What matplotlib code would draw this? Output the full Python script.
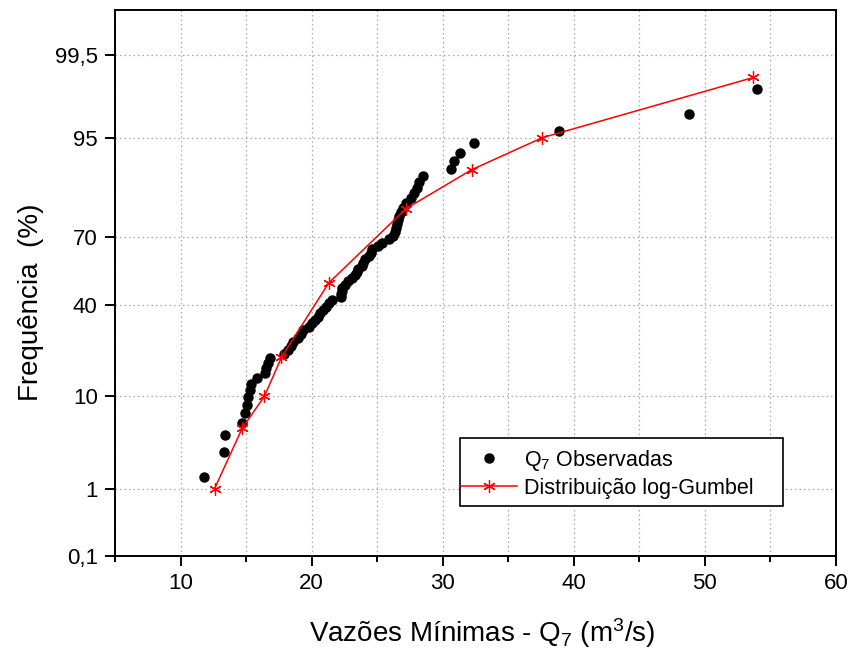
import math
import numpy as np
import matplotlib
matplotlib.use("Agg")
import matplotlib.pyplot as plt
from matplotlib.patches import Rectangle
from matplotlib.ticker import FixedLocator, MultipleLocator, NullFormatter

plt.rcParams['font.family'] = ['Liberation Sans', 'DejaVu Sans']
plt.rcParams['mathtext.fontset'] = 'custom'
plt.rcParams['mathtext.rm'] = 'Liberation Sans'
plt.rcParams['mathtext.it'] = 'Liberation Sans:italic'
plt.rcParams['mathtext.default'] = 'rm'

# Observed 7-day minimum flows (m3/s), sorted, with plotting-position frequency (%)
q7_obs = [11.81, 13.34, 13.42, 14.69, 14.95, 15.08, 15.15, 15.28, 15.38, 15.84,
          16.43, 16.53, 16.68, 16.86, 17.88, 18.16, 18.39, 18.57, 18.98, 19.18,
          19.34, 19.80, 20.00, 20.26, 20.46, 20.64, 20.87, 21.12, 21.33, 21.58,
          22.24, 22.27, 22.30, 22.35, 22.55, 22.81, 23.06, 23.32, 23.44, 23.55,
          23.83, 23.95, 24.08, 24.34, 24.52, 24.59, 25.10, 25.36, 25.92, 26.22,
          26.38, 26.45, 26.51, 26.58, 26.68, 26.79, 26.99, 27.19, 27.58, 27.81,
          28.04, 28.16, 28.47, 30.63, 30.88, 31.34, 32.39, 38.86, 48.77, 53.95]
freq_obs = [1.41, 2.82, 4.23, 5.63, 7.04, 8.45, 9.86, 11.27, 12.68, 14.08,
            15.49, 16.90, 18.31, 19.72, 21.13, 22.54, 23.94, 25.35, 26.76, 28.17,
            29.58, 30.99, 32.39, 33.80, 35.21, 36.62, 38.03, 39.44, 40.85, 42.25,
            43.66, 45.07, 46.48, 47.89, 49.30, 50.70, 52.11, 53.52, 54.93, 56.34,
            57.75, 59.15, 60.56, 61.97, 63.38, 64.79, 66.20, 67.61, 69.01, 70.42,
            71.83, 73.24, 74.65, 76.06, 77.46, 78.87, 80.28, 81.69, 83.10, 84.51,
            85.92, 87.32, 88.73, 90.14, 91.55, 92.96, 94.37, 95.77, 97.18, 98.59]

# Fitted log-Gumbel distribution
q7_fit = [12.6, 14.7, 16.4, 17.7, 21.3, 27.2, 32.2, 37.6, 53.7]
freq_fit = [1, 5, 10, 20, 50, 80, 90, 95, 99]

y_ticks = [0.1, 1, 10, 40, 70, 95, 99.5]
y_ticklabels = ["0,1", "1", "10", "40", "70", "95", "99,5"]
x_ticks = [10, 20, 30, 40, 50, 60]


# Normal probability scale (percent <-> standard normal quantile)
_a = [-3.969683028665376e+01, 2.209460984245205e+02, -2.759285104469687e+02,
      1.383577518672690e+02, -3.066479806614716e+01, 2.506628277459239e+00]
_b = [-5.447609879822406e+01, 1.615858368580409e+02, -1.556989798598866e+02,
      6.680131188771972e+01, -1.328068155288572e+01]
_c = [-7.784894002430293e-03, -3.223964580411365e-01, -2.400758277161838e+00,
      -2.549671348022013e+00, 4.374664141464968e+00, 2.938163982698783e+00]
_d = [7.784695709041462e-03, 3.224671290700398e-01, 2.445134137142996e+00,
      3.754408661907416e+00]


def _ppf_scalar(p):
    plow = 0.02425
    if p < plow:
        q = math.sqrt(-2 * math.log(p))
        return (((((_c[0]*q+_c[1])*q+_c[2])*q+_c[3])*q+_c[4])*q+_c[5]) / \
               ((((_d[0]*q+_d[1])*q+_d[2])*q+_d[3])*q+1)
    if p > 1 - plow:
        q = math.sqrt(-2 * math.log(1 - p))
        return -(((((_c[0]*q+_c[1])*q+_c[2])*q+_c[3])*q+_c[4])*q+_c[5]) / \
                ((((_d[0]*q+_d[1])*q+_d[2])*q+_d[3])*q+1)
    q = p - 0.5
    r = q * q
    return (((((_a[0]*r+_a[1])*r+_a[2])*r+_a[3])*r+_a[4])*r+_a[5])*q / \
           (((((_b[0]*r+_b[1])*r+_b[2])*r+_b[3])*r+_b[4])*r+1)


def pct_to_z(pct):
    p = np.clip(np.asarray(pct, dtype=float) / 100.0, 1e-12, 1 - 1e-12)
    return np.vectorize(_ppf_scalar, otypes=[float])(p)


def z_to_pct(z):
    z = np.asarray(z, dtype=float)
    return 100.0 * 0.5 * (1.0 + np.vectorize(math.erf, otypes=[float])(z / math.sqrt(2)))


fig = plt.figure(figsize=(8.51, 6.54), dpi=100)
ax = fig.add_axes([115/851, 1 - 556/654, (836 - 115)/851, (556 - 10)/654])
ax.set_yscale('function', functions=(pct_to_z, z_to_pct))

ax.plot(q7_obs, freq_obs, linestyle='none', marker='o', markersize=6.5,
        color='black', label=r"Q$_7$ Observadas", zorder=3)
ax.plot(q7_fit, freq_fit, color='red', linewidth=1.1, marker=(6, 2, 0),
        markersize=9, markeredgewidth=0.9, label="Distribuição log-Gumbel", zorder=4)

ax.set_xlim(5, 60)
ax.set_ylim(0.1, 99.9)

ax.xaxis.set_major_locator(FixedLocator(x_ticks))
ax.xaxis.set_minor_locator(MultipleLocator(5))
ax.xaxis.set_minor_formatter(NullFormatter())
ax.yaxis.set_major_locator(FixedLocator(y_ticks))
ax.yaxis.set_minor_locator(FixedLocator([]))
ax.set_yticklabels(y_ticklabels)

grid_kw = dict(color='#a8a8a8', linestyle=(0, (1.2, 2.4)), linewidth=0.9)
ax.grid(True, which='major', axis='both', **grid_kw)
ax.grid(True, which='minor', axis='x', **grid_kw)
ax.set_axisbelow(True)

ax.tick_params(which='major', direction='out', length=7.5, width=1.4,
               labelsize=16, pad=5)
ax.tick_params(which='minor', direction='out', length=4.5, width=1.4)
for s in ax.spines.values():
    s.set_linewidth(1.4)

ax.set_xlabel(r"Vazões Mínimas - Q$_7$ (m$^3$/s)", fontsize=20)
ax.set_ylabel("Frequência  (%)", fontsize=20)
ax.xaxis.set_label_coords(0.509, -0.111)
ax.yaxis.set_label_coords(-0.0985, 0.465)

# Legend box
ax.add_patch(Rectangle((0.4785, 0.0916), 0.448, 0.1245, transform=ax.transAxes,
                       facecolor='white', edgecolor='black', linewidth=1.2,
                       zorder=4.5))
leg = ax.legend(loc='upper left', bbox_to_anchor=(0.4800, 0.1985),
                fontsize=15.5, frameon=False, borderpad=0,
                labelspacing=0.25, handlelength=2.6, handletextpad=0.3,
                borderaxespad=0)
leg.set_zorder(6)

fig.savefig("out.png", dpi=100)
